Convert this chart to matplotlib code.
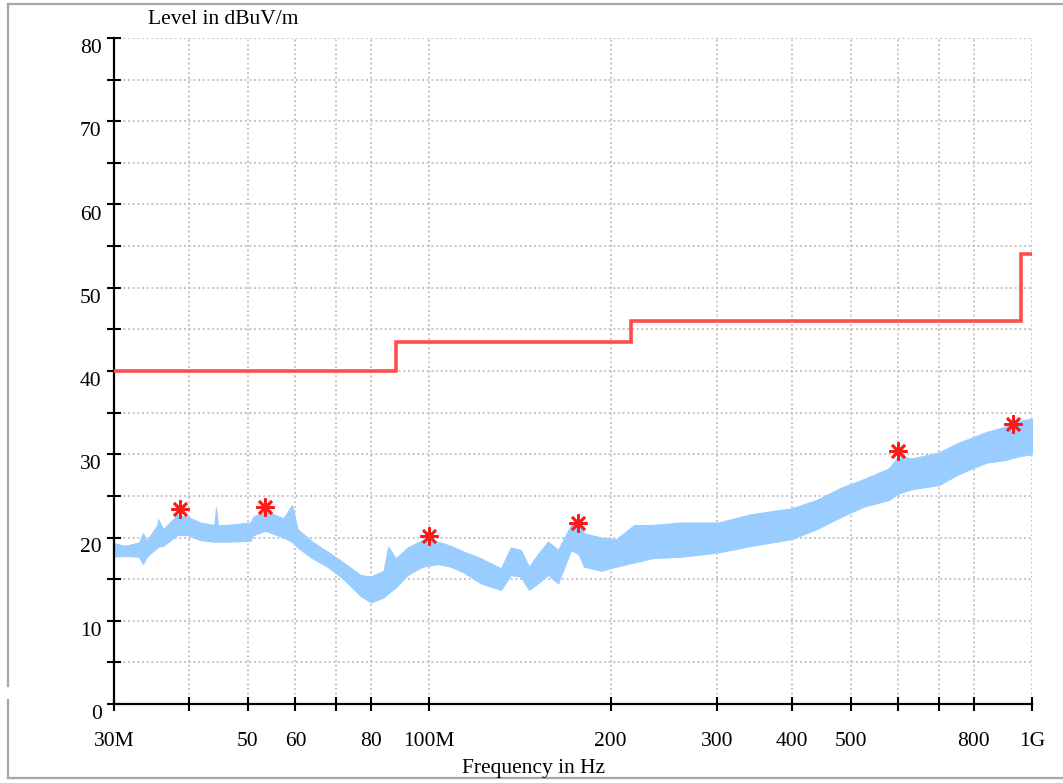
import matplotlib.pyplot as plt
import matplotlib.transforms as mtransforms
from matplotlib.lines import Line2D
from matplotlib.ticker import FixedLocator, NullLocator

plt.rcParams['font.family'] = ['Liberation Serif', 'DejaVu Serif']

# measured spectrum envelope (MHz, dBuV/m)
trace_freq = [30, 31.3, 33.0, 33.5, 34.0, 35.4, 35.5, 36.2, 38.2, 39.7, 41.7,
              44.0, 44.3, 44.6, 45.9, 50.5, 51.1, 53.5, 57.3, 59.2, 60.5,
              64.0, 67.8, 72.1, 76.9, 80.0, 84.0, 85.5, 88.0, 92.1, 97.5,
              103.3, 108.6, 114.1, 121.8, 131.5, 136.6, 141.9, 146.4, 151.5,
              157.4, 163.6, 171.9, 177.0, 180.6, 192.9, 204.3, 218.8, 233.5,
              261.9, 301.7, 342.2, 399, 439, 483, 525.7, 578.5, 601, 631.7,
              700.5, 750.5, 795, 841.8, 901.8, 955, 1000]
trace_low = [17.7, 17.8, 17.7, 16.8, 17.7, 18.8, 18.9, 19.0, 20.3, 20.3, 19.7,
             19.5, 19.5, 19.5, 19.5, 19.6, 20.3, 20.8, 20.0, 19.5, 18.8,
             17.5, 16.5, 15.0, 13.0, 12.2, 12.8, 13.3, 14.0, 15.5, 16.5,
             16.8, 16.5, 15.8, 14.5, 13.7, 15.5, 15.3, 13.7, 14.5,
             15.5, 14.5, 18.5, 18.0, 16.5, 16.0, 16.5, 17.0, 17.5,
             17.7, 18.2, 19.0, 19.8, 21.0, 22.5, 23.7, 24.5, 25.3, 25.8,
             26.3, 27.5, 28.3, 29.0, 29.3, 29.8, 30.0]
trace_high = [19.3, 19.0, 19.4, 20.5, 19.6, 21.5, 22.2, 21.0, 22.7, 22.5, 21.8,
              21.5, 23.6, 21.5, 21.5, 21.8, 22.5, 23.2, 22.3, 23.9, 21.0,
              19.5, 18.3, 17.0, 15.5, 15.3, 16.0, 18.9, 17.5, 18.8, 19.7,
              19.5, 19.0, 18.3, 17.5, 16.3, 18.8, 18.5, 16.5, 18.0,
              19.5, 18.5, 21.5, 22.0, 20.5, 20.0, 19.8, 21.5, 21.5,
              21.8, 21.8, 22.8, 23.5, 24.5, 26.0, 27.0, 28.3, 29.8, 29.5,
              30.2, 31.3, 32.0, 32.7, 33.3, 34.0, 34.3]

# limit line
limit_edges = [30, 88, 216, 960, 1000]
limit_level = [40, 43.5, 46, 54]

# peak markers
peak_freq = [38.6, 53.4, 100, 176.3, 600, 929]
peak_level = [23.4, 23.7, 20.2, 21.8, 30.4, 33.6]

tick_freq = [30, 40, 50, 60, 70, 80, 100, 200, 300, 400, 500, 600, 700, 800, 1000]
tick_text = ['30M', '', '50', '60', '', '80', '100M', '200', '300', '400', '500',
             '', '', '800', '1G']

fig = plt.figure(figsize=(10.63, 7.83), dpi=100)
ax = fig.add_axes([114 / 1063, 1 - 704 / 783, (1032 - 114) / 1063, (704 - 38) / 783])

ax.fill_between(trace_freq, trace_low, trace_high, color='#99ccff', lw=0.8,
                edgecolor='#99ccff', zorder=2)
ax.stairs(limit_level, limit_edges, baseline=None, color='#ff4d4d', lw=2.6, zorder=3)
ax.plot(peak_freq, peak_level, ls='none', marker=(8, 2, 0), ms=13, mew=1.9,
        color='#ff1a1a', zorder=4)

ax.set_xscale('log')
ax.set_xlim(30, 1000)
ax.set_ylim(0, 80)

ax.xaxis.set_major_locator(FixedLocator(tick_freq))
ax.xaxis.set_minor_locator(NullLocator())
ax.set_xticklabels(tick_text)
ax.set_yticks(range(0, 81, 5))
ax.set_yticklabels([str(v) if v % 10 == 0 else '' for v in range(0, 81, 5)])

ax.grid(True, which='major', color='#bdbdbd', ls=(0, (1.2, 1.6)), lw=1.2)
ax.set_axisbelow(True)

for side in ('top', 'right'):
    ax.spines[side].set_visible(False)
for side in ('left', 'bottom'):
    ax.spines[side].set_linewidth(1.6)

ax.tick_params(axis='both', direction='inout', length=10, width=1.5,
               labelsize=15.5, colors='black')
ax.tick_params(axis='x', pad=15)
ax.tick_params(axis='y', pad=4)

# push the y labels a little below their ticks
shift = mtransforms.ScaledTranslation(0, -8 / 100, fig.dpi_scale_trans)
for lbl in ax.get_yticklabels():
    lbl.set_transform(lbl.get_transform() + shift)

fig.text(223 / 1063, 1 - 19 / 783, 'Level in dBuV/m', ha='center', va='center',
         fontsize=15.5)
fig.text(533 / 1063, 1 - 768 / 783, 'Frequency in Hz', ha='center', va='center',
         fontsize=15.5)

# outer frame
frame = dict(color='#a8a8a8', lw=1.6, transform=fig.transFigure)
fig.add_artist(Line2D([8 / 1063, 1], [1 - 4 / 783, 1 - 4 / 783], **frame))
fig.add_artist(Line2D([8 / 1063, 8 / 1063], [1 - 4 / 783, 1 - 686 / 783], **frame))
fig.add_artist(Line2D([8 / 1063, 8 / 1063], [1 - 700 / 783, 1 - 778 / 783], **frame))
fig.add_artist(Line2D([8 / 1063, 1], [1 - 778 / 783, 1 - 778 / 783], **frame))

fig.savefig('out.png', dpi=100)
